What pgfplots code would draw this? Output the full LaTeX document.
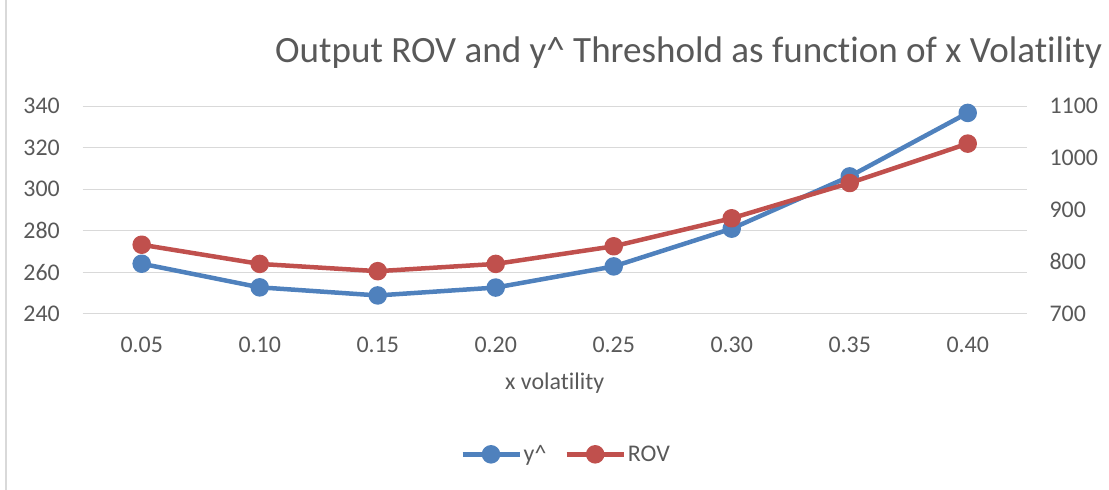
\documentclass[border=0pt]{standalone}
\usepackage{fontspec}
\setmainfont[Ligatures=NoCommon]{Carlito}
\usepackage{pgfplots}
\pgfplotsset{compat=1.18}
\definecolor{xlblue}{HTML}{4F81BD}
\definecolor{xlred}{HTML}{C0504D}
\definecolor{txtgray}{HTML}{595959}
\definecolor{gridgray}{HTML}{D9D9D9}

\pgfplotsset{
  base/.style={
    scale only axis, width=944bp, height=207.4bp,
    at={(82.7bp,176.3bp)}, anchor=south west,
    xmin=-0.5, xmax=7.5, clip=false,
    axis line style={draw=none}, major tick length=0pt,
    tick label style={font=\fontsize{24}{28}\selectfont, text=txtgray, inner sep=0pt},
    /pgf/number format/assume math mode=true,
    /pgf/number format/1000 sep={},
    every axis plot/.append style={line width=4.5bp, line join=round},
    legend image code/.code={
      \draw[mark repeat=2, mark phase=2, ##1] plot coordinates {(0bp,0bp) (28.5bp,0bp) (57bp,0bp)};
    },
  }
}

\begin{document}
\begin{tikzpicture}[x=1bp, y=1bp]
\useasboundingbox (0,0) rectangle (1109,490);
\draw[gridgray, line width=1.5bp] (6,0) -- (6,490);

% left axis: y^
\begin{axis}[base,
    ymin=240, ymax=340, ytick={240,260,...,340},
    ymajorgrids, grid style={gridgray, line width=1.4bp},
    xtick={0,...,7},
    xticklabels={0.05,0.10,0.15,0.20,0.25,0.30,0.35,0.40},
    xticklabel style={anchor=base, yshift=-38.6bp},
    yticklabel style={anchor=east, xshift=-22.7bp},
  ]
  \addplot[xlblue, mark=*, mark size=7bp, mark options={fill=xlblue}] coordinates {
    (0,264.1) (1,252.7) (2,248.8) (3,252.6)
    (4,262.8) (5,281.0) (6,306.2) (7,336.8)
  };
\end{axis}

% right axis: ROV
\begin{axis}[base,
    ymin=700, ymax=1100, ytick={700,800,...,1100},
    xtick=\empty,
    yticklabel pos=right,
    yticklabel style={anchor=west, xshift=22.6bp},
    legend columns=2,
    legend style={at={(0.512,-0.678)}, anchor=center, draw=none, fill=none,
      font=\fontsize{24}{28}\selectfont, text=txtgray,
      /tikz/every even column/.append style={column sep=16bp}},
    legend cell align=left,
  ]
  \addlegendimage{xlblue, line width=4.5bp, mark=*, mark size=7bp, mark options={fill=xlblue}}
  \addlegendentry{y\textasciicircum}
  \addplot[xlred, mark=*, mark size=7bp, mark options={fill=xlred}] coordinates {
    (0,833) (1,796) (2,782) (3,796)
    (4,830) (5,884) (6,952) (7,1028)
  };
  \addlegendentry{ROV}
\end{axis}

\node[anchor=base west, text=txtgray, font=\fontsize{37.2}{43}\selectfont, inner sep=0pt]
  at (275,427) {Output ROV and y\textasciicircum{} Threshold as function of x Volatility};
\node[anchor=base, text=txtgray, font=\fontsize{24}{28}\selectfont, inner sep=0pt]
  at (554.7,100) {x volatility};
\end{tikzpicture}
\end{document}
